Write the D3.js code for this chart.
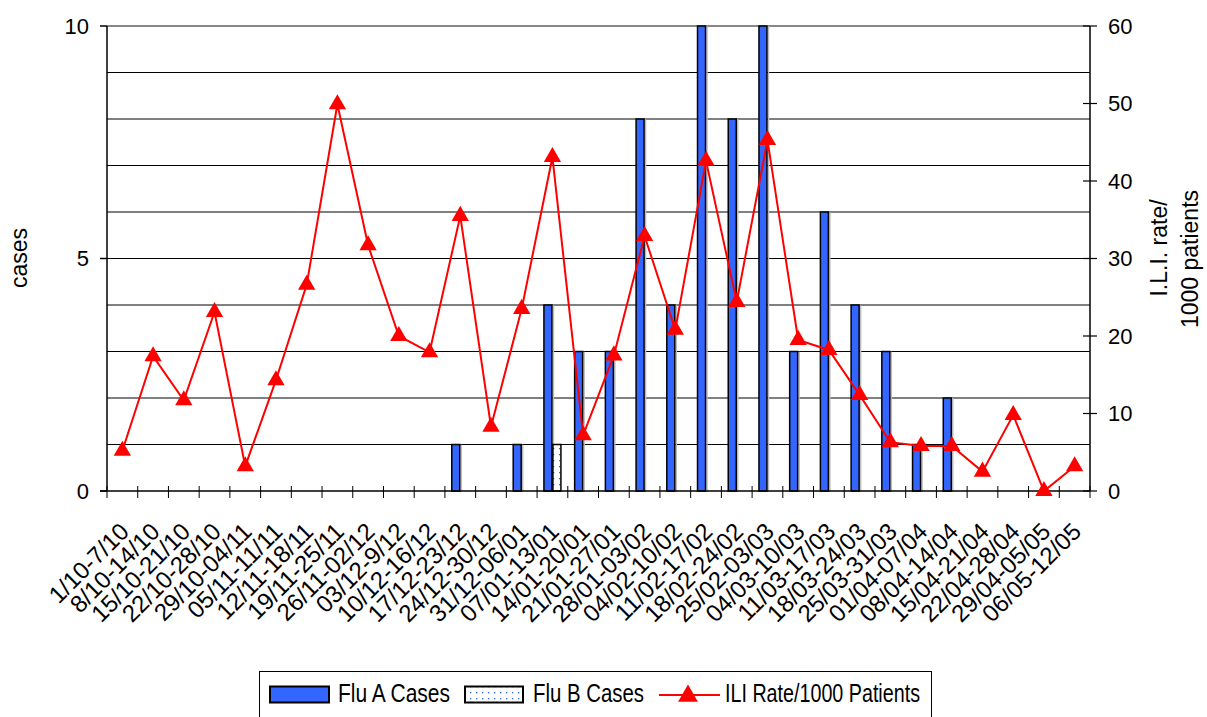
<!DOCTYPE html>
<html>
<head>
<meta charset="utf-8">
<script src="https://cdn.jsdelivr.net/npm/d3@7"></script>
<style>
  body { margin: 0; background: #fff; }
  svg { font-family: "Liberation Sans", Arial, sans-serif; }
</style>
</head>
<body>
<div id="chart"></div>
<script>
// weeks on the x axis
var weeks = ['1/10-7/10','8/10-14/10','15/10-21/10','22/10-28/10','29/10-04/11','05/11-11/11',
  '12/11-18/11','19/11-25/11','26/11-02/12','03/12-9/12','10/12-16/12','17/12-23/12','24/12-30/12',
  '31/12-06/01','07/01-13/01','14/01-20/01','21/01-27/01','28/01-03/02','04/02-10/02','11/02-17/02',
  '18/02-24/02','25/02-03/03','04/03-10/03','11/03-17/03','18/03-24/03','25/03-31/03','01/04-07/04',
  '08/04-14/04','15/04-21/04','22/04-28/04','29/04-05/05','06/05-12/05'];

var fluA = [0,0,0,0,0,0,0,0,0,0,0,1,0,1,4,3,3,8,4,10,8,10,3,6,4,3,1,2,0,0,0,0];
var fluB = [0,0,0,0,0,0,0,0,0,0,0,0,0,0,1,0,0,0,0,0,0,0,0,0,0,0,0,0,0,0,0,0];
var iliRate = [5.2,17.4,11.7,23.1,3.2,14.3,26.6,49.9,31.7,20,17.9,35.5,8.3,23.5,43.1,7.2,
  17.5,32.9,20.8,42.6,24.4,45.3,19.5,18.2,12.4,6.3,5.8,5.8,2.5,9.8,0,3.2];

var leftTicks = [0,5,10];
var rightTicks = [0,10,20,30,40,50,60];
var gridTicks = [1,2,3,4,5,6,7,8,9,10];

var W = 1207, H = 717;
var margin = {t:26, r:117, b:226, l:107};
var width = W - margin.l - margin.r,
    height = H - margin.t - margin.b;

var svg = d3.select('#chart').append('svg')
  .attr('width', W).attr('height', H);

// dotted fill for flu B
var defs = svg.append('defs');
var pat = defs.append('pattern').attr('id','dots')
  .attr('patternUnits','userSpaceOnUse').attr('width',6).attr('height',6);
pat.append('rect').attr('width',6).attr('height',6).attr('fill','#fff');
pat.append('rect').attr('x',2).attr('y',2).attr('width',1.3).attr('height',1.3).attr('fill','#3366ff');

var plot = svg.append('g')
  .attr('transform','translate(' + margin.l + ',' + margin.t + ')');

var x = d3.scaleBand().domain(weeks).range([0, width]);
var yL = d3.scaleLinear().domain([0,10]).range([height, 0]);
var yR = d3.scaleLinear().domain([0,60]).range([height, 0]);

function cx(i){ return x(weeks[i]) + x.bandwidth()/2; }

// gridlines
plot.selectAll('.grid').data(gridTicks).enter().append('line')
  .attr('x1',0).attr('x2',width)
  .attr('y1',function(d){return yL(d);}).attr('y2',function(d){return yL(d);})
  .attr('stroke',function(d){return d==10 ? '#888' : '#000';})
  .attr('stroke-width',function(d){return d==10 ? 2 : 1;});

// bars (light grey shadow first, then the bar)
var bw = 8;
var barData = weeks.map(function(w,i){ return {w:w, a:fluA[i], b:fluB[i]}; });
var aData = barData.filter(function(d){return d.a>0;});
var bData = barData.filter(function(d){return d.b>0;});

plot.selectAll('.shA').data(aData).enter().append('rect')
  .attr('x', function(d){ return x(d.w) + x.bandwidth()/2 - bw - 0.5 + 1.5; })
  .attr('y', function(d){ return yL(d.a) + 1; })
  .attr('width', bw).attr('height', function(d){ return height - yL(d.a) - 1; })
  .attr('fill','none').attr('stroke','#bbb').attr('stroke-width',1.5);
plot.selectAll('.barA').data(aData).enter().append('rect')
  .attr('class','barA')
  .attr('x', function(d){ return x(d.w) + x.bandwidth()/2 - bw - 0.5; })
  .attr('y', function(d){ return yL(d.a); })
  .attr('width', bw).attr('height', function(d){ return height - yL(d.a); })
  .attr('fill','#3366ff').attr('stroke','#000').attr('stroke-width',1.5);
plot.selectAll('.barB').data(bData).enter().append('rect')
  .attr('class','barB')
  .attr('x', function(d){ return x(d.w) + x.bandwidth()/2 + 0.5; })
  .attr('y', function(d){ return yL(d.b); })
  .attr('width', bw).attr('height', function(d){ return height - yL(d.b); })
  .attr('fill','url(#dots)').attr('stroke','#000').attr('stroke-width',1.5);

// axis lines
plot.append('line').attr('x1',0).attr('x2',0).attr('y1',0).attr('y2',height).attr('stroke','#000').attr('stroke-width',1.5);
plot.append('line').attr('x1',width).attr('x2',width).attr('y1',0).attr('y2',height).attr('stroke','#000').attr('stroke-width',1.5);
plot.append('line').attr('x1',-7).attr('x2',width).attr('y1',height).attr('y2',height).attr('stroke','#000').attr('stroke-width',1.5);

// left axis
plot.selectAll('.lt').data(leftTicks).enter().append('line')
  .attr('x1',-7).attr('x2',0)
  .attr('y1',function(d){return yL(d);}).attr('y2',function(d){return yL(d);})
  .attr('stroke','#000').attr('stroke-width',1.5);
plot.selectAll('.ll').data(leftTicks).enter().append('text')
  .attr('x',-18).attr('y',function(d){return yL(d);}).attr('dy','0.36em')
  .attr('text-anchor','end').attr('font-size',22).text(function(d){return d;});

// right axis
plot.selectAll('.rt').data(rightTicks).enter().append('line')
  .attr('x1',width-7).attr('x2',width+7)
  .attr('y1',function(d){return yR(d);}).attr('y2',function(d){return yR(d);})
  .attr('stroke','#000').attr('stroke-width',1.2);
plot.selectAll('.rl').data(rightTicks).enter().append('text')
  .attr('x',width+18).attr('y',function(d){return yR(d);}).attr('dy','0.36em')
  .attr('text-anchor','start').attr('font-size',22).text(function(d){return d;});

// x ticks at category boundaries
var bounds = d3.range(weeks.length + 1);
plot.selectAll('.xt').data(bounds).enter().append('line')
  .attr('x1',function(d){return d*x.step();}).attr('x2',function(d){return d*x.step();})
  .attr('y1',height-5).attr('y2',height+7)
  .attr('stroke','#000').attr('stroke-width',1);

// x labels
plot.selectAll('.xl').data(weeks).enter().append('text')
  .attr('transform',function(d){ return 'translate(' + (x(d) + x.bandwidth()/2 + 8) + ',' + (height + 42) + ') rotate(-45)'; })
  .attr('text-anchor','end').attr('font-size',24)
  .text(function(d){return d;});

// ILI line
var line = d3.line()
  .x(function(d,i){ return cx(i); })
  .y(function(d){ return yR(d); });
plot.append('path').datum(iliRate).attr('d',line)
  .attr('fill','none').attr('stroke','#ff0000').attr('stroke-width',2);
var tri = d3.symbol().type(d3.symbolTriangle).size(130);
plot.selectAll('.mk').data(iliRate).enter().append('path')
  .attr('d',tri)
  .attr('transform',function(d,i){ return 'translate(' + cx(i) + ',' + yR(d) + ')'; })
  .attr('fill','#ff0000');

// axis titles
svg.append('text').attr('transform','translate(27,258) rotate(-90)')
  .attr('text-anchor','middle').attr('font-size',23).text('cases');
svg.append('text').attr('transform','translate(1167,248) rotate(-90)')
  .attr('text-anchor','middle').attr('font-size',23).text('I.L.I. rate/');
svg.append('text').attr('transform','translate(1198,259) rotate(-90)')
  .attr('text-anchor','middle').attr('font-size',23).text('1000 patients');

// legend
var lg = svg.append('g');
lg.append('rect').attr('x',259.5).attr('y',671.5).attr('width',672).attr('height',60)
  .attr('fill','#fff').attr('stroke','#000').attr('stroke-width',1);
lg.append('rect').attr('x',270).attr('y',686.5).attr('width',59).attr('height',16)
  .attr('fill','#3366ff').attr('stroke','#000').attr('stroke-width',2);
lg.append('text').attr('x',338).attr('y',702).attr('font-size',25)
  .attr('textLength',112).attr('lengthAdjust','spacingAndGlyphs').text('Flu A Cases');
lg.append('rect').attr('x',465).attr('y',686.5).attr('width',58).attr('height',16)
  .attr('fill','url(#dots)').attr('stroke','#000').attr('stroke-width',2);
lg.append('text').attr('x',533).attr('y',702).attr('font-size',25)
  .attr('textLength',111).attr('lengthAdjust','spacingAndGlyphs').text('Flu B Cases');
lg.append('line').attr('x1',659).attr('x2',720).attr('y1',695).attr('y2',695)
  .attr('stroke','#ff0000').attr('stroke-width',2);
lg.append('path').attr('d',d3.symbol().type(d3.symbolTriangle).size(170))
  .attr('transform','translate(688,696)').attr('fill','#ff0000');
lg.append('text').attr('x',725).attr('y',702).attr('font-size',25)
  .attr('textLength',195).attr('lengthAdjust','spacingAndGlyphs').text('ILI Rate/1000 Patients');
</script>
</body>
</html>
